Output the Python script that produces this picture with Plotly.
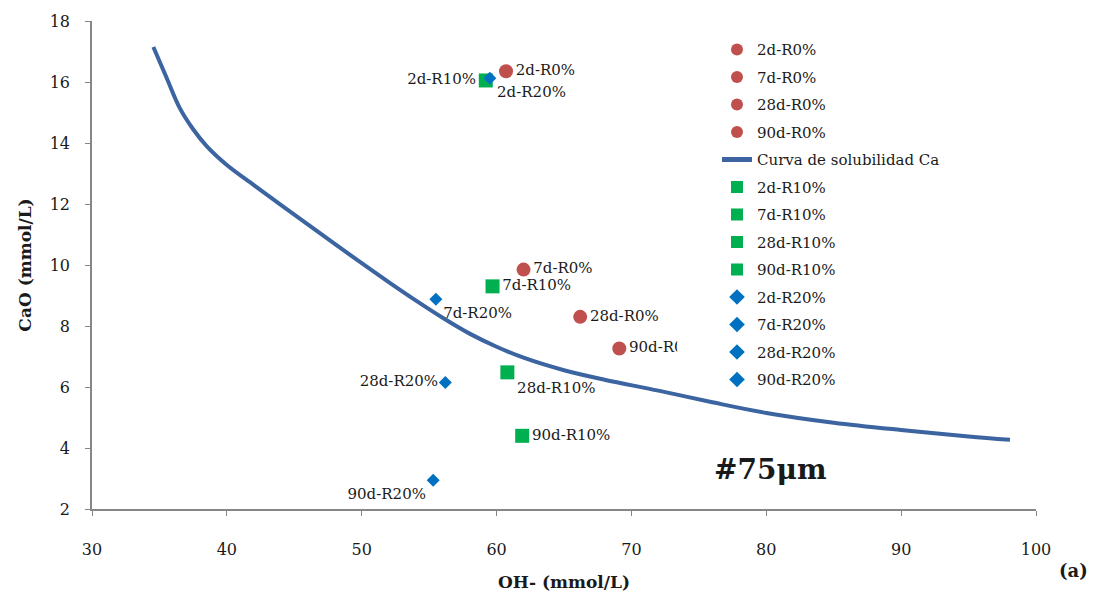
import plotly.graph_objects as go

# ---- data ----
r0_names = ["2d-R0%", "7d-R0%", "28d-R0%", "90d-R0%"]
r0_x = [60.7, 62.0, 66.2, 69.1]
r0_y = [16.35, 9.85, 8.30, 7.26]

r10_names = ["2d-R10%", "7d-R10%", "28d-R10%", "90d-R10%"]
r10_x = [59.2, 59.7, 60.8, 61.9]
r10_y = [16.05, 9.30, 6.48, 4.40]

r20_names = ["2d-R20%", "7d-R20%", "28d-R20%", "90d-R20%"]
r20_x = [59.5, 55.5, 56.2, 55.3]
r20_y = [16.12, 8.88, 6.15, 2.94]

curve_name = "Curva de solubilidad Ca"
curve_x = [34.55, 35.5, 36.5, 37.5, 38.5, 40.0, 42.0, 44.0, 46.0, 48.0, 50.0,
           52.0, 54.0, 56.0, 58.0, 60.0, 62.0, 65.0, 68.0, 72.0, 76.0, 80.0,
           85.0, 90.0, 95.0, 98.07]
curve_y = [17.15, 16.17, 15.15, 14.45, 13.90, 13.28, 12.62, 11.97, 11.33, 10.69, 10.06,
           9.44, 8.84, 8.27, 7.75, 7.32, 6.96, 6.55, 6.24, 5.88, 5.50, 5.15,
           4.83, 4.59, 4.38, 4.27]

# label placement (style)
r0_pos = ["middle right", "middle right", "middle right", "middle right"]
r10_pos = ["middle left", "middle right", "bottom right", "middle right"]
r20_pos = ["bottom right", "bottom right", "middle left", "bottom left"]

FONT = "DejaVu Serif"
RED, GREEN, BLUE, LINE = "#C0504D", "#00B050", "#0070C0", "#3B64A0"

fig = go.Figure()

def add_points(names, xs, ys, pos, symbol, color, size):
    for n, x, y, p in zip(names, xs, ys, pos):
        fig.add_trace(go.Scatter(
            x=[x], y=[y], name=n, mode="markers+text", text=[n],
            textposition=p, textfont=dict(family=FONT, size=15, color="#1a1a1a"),
            marker=dict(symbol=symbol, color=color, size=size),
            legendgroup=n, cliponaxis=False))

add_points(r0_names, r0_x, r0_y, r0_pos, "circle", RED, 14)
fig.add_trace(go.Scatter(x=curve_x, y=curve_y, name=curve_name, mode="lines",
                         line=dict(color=LINE, width=4, shape="spline", smoothing=1.0),
                         legendgroup=curve_name))
add_points(r10_names, r10_x, r10_y, r10_pos, "square", GREEN, 14)
add_points(r20_names, r20_x, r20_y, r20_pos, "diamond", BLUE, 10)

axis_common = dict(showgrid=False, zeroline=False, showline=True, linecolor="#868686",
                   linewidth=1.5, ticks="outside", tickcolor="#868686", ticklen=5,
                   tickfont=dict(family=FONT, size=16, color="#1a1a1a"))

fig.update_xaxes(range=[30, 100], dtick=10, ticklabelstandoff=20,
                 title=dict(text="<b>OH- (mmol/L)</b>", font=dict(family=FONT, size=17, color="#1a1a1a"), standoff=18),
                 **axis_common)
fig.update_yaxes(range=[2, 18], dtick=2, ticklabelstandoff=12,
                 title=dict(text="<b>CaO (mmol/L)</b>", font=dict(family=FONT, size=17, color="#1a1a1a"), standoff=14),
                 **axis_common)

# white panel behind the legend (covers label overflow like the original)
fig.add_shape(type="rect", xref="paper", yref="paper", x0=0.62, x1=0.92, y0=0.247, y1=1.0,
              fillcolor="white", line=dict(width=0), layer="above")

fig.add_annotation(x=80.3, y=3.3, xref="x", yref="y", text="<b>#75μm</b>", showarrow=False,
                   font=dict(family=FONT, size=28, color="#1a1a1a"))
fig.add_annotation(x=1.0 + (1090 - 1036) / 944, y=-(585 - 510) / 493, xref="paper", yref="paper",
                   text="<b>(a)</b>", showarrow=False, font=dict(family=FONT, size=18, color="#1a1a1a"))

fig.update_layout(
    width=1107, height=601,
    margin=dict(l=92, r=71, t=17, b=91),
    paper_bgcolor="white", plot_bgcolor="white",
    showlegend=True,
    legend=dict(x=(717 - 92) / 944, y=0.975, xanchor="left", yanchor="top",
                bgcolor="rgba(0,0,0,0)", font=dict(family=FONT, size=15, color="#1a1a1a"),
                itemsizing="constant", tracegroupgap=5, traceorder="grouped"),
)

fig.write_html("out.html")
